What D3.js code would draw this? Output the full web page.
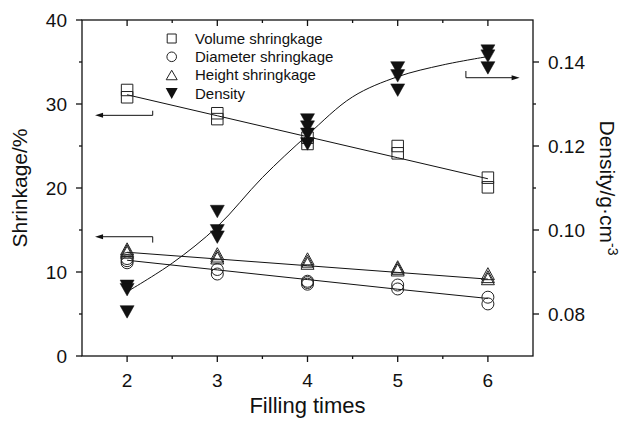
<!DOCTYPE html>
<html><head><meta charset="utf-8">
<script src="https://cdn.jsdelivr.net/npm/d3@7"></script>
<style>
body{margin:0;background:#fff}
svg{display:block}
text{font-family:"Liberation Sans",Arial,Helvetica,sans-serif;fill:#111}
</style>
</head><body>
<svg id="chart" width="625" height="421"></svg>
<script>
// ---------------- data ----------------
const fillingTimes = [2, 3, 4, 5, 6];
const xTicks = [2, 3, 4, 5, 6];
const leftTicks = [0, 10, 20, 30, 40];
const rightTicks = [0.08, 0.10, 0.12, 0.14];

const volumeX = [2, 2, 3, 3, 4, 4, 5, 5, 6, 6];
const volumeY = [31.67, 30.8, 28.9, 28.2, 25.99, 25.24, 25.0, 24.13, 21.23, 20.08];
const diameterX = [2, 2, 2, 3, 3, 4, 4, 4, 5, 5, 6, 6];
const diameterY = [11.6, 11.35, 11.1, 10.3, 9.76, 8.9, 8.75, 8.55, 8.45, 7.98, 7.0, 6.2];
const heightX = [2, 2, 2, 3, 3, 3, 4, 4, 4, 5, 5, 5, 6, 6, 6];
const heightY = [12.76, 12.56, 12.36, 12.18, 11.9, 11.67, 11.57, 11.29, 11.04, 10.63, 10.44, 10.24, 9.8, 9.45, 9.2];
const densityX = [2, 2, 2, 3, 3, 3, 4, 4, 4, 4, 5, 5, 5, 6, 6, 6];
const densityY = [0.0866, 0.0858, 0.0805, 0.1044, 0.0998, 0.0983, 0.1262, 0.1245, 0.1228, 0.1205, 0.1386, 0.1367, 0.1333, 0.1426, 0.1414, 0.1386];

// fitted lines
const volumeFit = [31.1, 28.6, 26.1, 23.6, 21.1];
const diameterFit = [11.4, 10.25, 9.1, 7.95, 6.85];
const heightFit = [12.35, 11.55, 10.75, 9.95, 9.15];
const densityCurveX = [2, 2.5, 3, 3.5, 4, 4.5, 5, 5.5, 6];
const densityCurveY = [0.0853, 0.0921, 0.1008, 0.1125, 0.1226, 0.1317, 0.1365, 0.1393, 0.1413];

const legendLabels = ["Volume shringkage", "Diameter shringkage", "Height shringkage", "Density"];

// axis-pointer arrows (data units)
const leftArrows = [
  {x0: 2.284, x1: 1.645, y: 28.65, tick: 29.2},
  {x0: 2.284, x1: 1.645, y: 14.2, tick: 13.5}
];
const rightArrows = [
  {x0: 5.756, x1: 6.352, y: 0.13626, tick: 0.13786}
];

// ---------------- layout ----------------
const svg = d3.select("#chart");
const L = 82, R = 533, T = 20, B = 356;
const x = d3.scaleLinear().domain([1.5, 6.5]).range([L, R]);
const yL = d3.scaleLinear().domain([0, 40]).range([B, T]);
const yR = d3.scaleLinear().domain([0.07, 0.15]).range([B, T]);

const g = svg.append("g");

// fit lines
const line = (xs, ys, ysc) => d3.line().x((d, i) => x(xs[i])).y(d => ysc(d))(ys);
[[volumeFit], [diameterFit], [heightFit]].forEach(([f]) => {
  g.append("path").attr("d", line(fillingTimes, f, yL))
    .attr("fill", "none").attr("stroke", "#111").attr("stroke-width", 1);
});
g.append("path")
  .attr("d", d3.line().curve(d3.curveCatmullRom.alpha(0.5))
    .x((d, i) => x(densityCurveX[i])).y(d => yR(d))(densityCurveY))
  .attr("fill", "none").attr("stroke", "#111").attr("stroke-width", 1);

// markers
const sq = s => `M${-s/2},${-s/2}h${s}v${s}h${-s}Z`;
const triUp = (w, h) => `M0,${-h/2}L${w/2},${h/2}L${-w/2},${h/2}Z`;
const triDown = (w, h) => `M0,${h/2}L${w/2},${-h/2}L${-w/2},${-h/2}Z`;

volumeY.forEach((v, i) => g.append("path").attr("d", sq(11.5))
  .attr("transform", `translate(${x(volumeX[i])},${yL(v)})`)
  .attr("fill", "none").attr("stroke", "#222").attr("stroke-width", 1));
diameterY.forEach((v, i) => g.append("circle").attr("r", 6)
  .attr("cx", x(diameterX[i])).attr("cy", yL(v))
  .attr("fill", "none").attr("stroke", "#222").attr("stroke-width", 1));
heightY.forEach((v, i) => g.append("path").attr("d", triUp(13, 12))
  .attr("transform", `translate(${x(heightX[i])},${yL(v)})`)
  .attr("fill", "none").attr("stroke", "#222").attr("stroke-width", 1));
densityY.forEach((v, i) => g.append("path").attr("d", triDown(14, 12.5))
  .attr("transform", `translate(${x(densityX[i])},${yR(v)})`)
  .attr("fill", "#111").attr("stroke", "#111").attr("stroke-width", 0.5));

// frame / axes
const axisStroke = 1.3;
const minorX = d3.range(2.5, 6.5, 1);
const minorL = [5, 15, 25, 35];
const minorR = [0.09, 0.11, 0.13];

const ax = svg.append("g").attr("stroke", "#111").attr("stroke-width", axisStroke);
ax.append("rect").attr("x", L).attr("y", T).attr("width", R - L).attr("height", B - T).attr("fill", "none");

// bottom (outward) and top (inward) ticks
xTicks.forEach(t => {
  ax.append("line").attr("x1", x(t)).attr("x2", x(t)).attr("y1", B).attr("y2", B + 6);
  ax.append("line").attr("x1", x(t)).attr("x2", x(t)).attr("y1", T).attr("y2", T + 6);
});
minorX.forEach(t => {
  ax.append("line").attr("x1", x(t)).attr("x2", x(t)).attr("y1", B).attr("y2", B + 3);
  ax.append("line").attr("x1", x(t)).attr("x2", x(t)).attr("y1", T).attr("y2", T + 3);
});
// left ticks
leftTicks.forEach(t => ax.append("line").attr("x1", L - 6).attr("x2", L).attr("y1", yL(t)).attr("y2", yL(t)));
minorL.forEach(t => ax.append("line").attr("x1", L - 3).attr("x2", L).attr("y1", yL(t)).attr("y2", yL(t)));
// right ticks
rightTicks.forEach(t => ax.append("line").attr("x1", R).attr("x2", R + 6).attr("y1", yR(t)).attr("y2", yR(t)));
minorR.forEach(t => ax.append("line").attr("x1", R).attr("x2", R + 3).attr("y1", yR(t)).attr("y2", yR(t)));

// tick labels
const tickFont = 19;
xTicks.forEach(t => svg.append("text").attr("x", x(t)).attr("y", B + 31)
  .attr("text-anchor", "middle").attr("font-size", tickFont).text(d3.format("d")(t)));
leftTicks.forEach(t => svg.append("text").attr("x", L - 15).attr("y", yL(t) + 7)
  .attr("text-anchor", "end").attr("font-size", tickFont).text(t));
rightTicks.forEach(t => svg.append("text").attr("x", R + 15).attr("y", yR(t) + 7)
  .attr("text-anchor", "start").attr("font-size", tickFont).text(d3.format(".2f")(t)));

// axis titles
svg.append("text").attr("x", (L + R) / 2).attr("y", 413).attr("text-anchor", "middle")
  .attr("font-size", 22).text("Filling times");
svg.append("text").attr("transform", `translate(27,${(T + B) / 2}) rotate(-90)`)
  .attr("text-anchor", "middle").attr("font-size", 21).text("Shrinkage/%");
const rt = svg.append("text").attr("transform", `translate(600,${(T + B) / 2}) rotate(90)`)
  .attr("text-anchor", "middle").attr("font-size", 21);
rt.append("tspan").text("Density/g·cm");
rt.append("tspan").attr("font-size", 14).attr("dy", -8).text("-3");

// arrows
const arrowG = svg.append("g").attr("stroke", "#111").attr("stroke-width", 1).attr("fill", "#111");
leftArrows.forEach(a => {
  arrowG.append("line").attr("x1", x(a.x0)).attr("x2", x(a.x1) + 6).attr("y1", yL(a.y)).attr("y2", yL(a.y));
  arrowG.append("line").attr("x1", x(a.x0)).attr("x2", x(a.x0)).attr("y1", yL(a.y)).attr("y2", yL(a.tick));
  arrowG.append("path").attr("stroke", "none")
    .attr("d", `M${x(a.x1)},${yL(a.y)}l8,-2.5v5Z`);
});
rightArrows.forEach(a => {
  arrowG.append("line").attr("x1", x(a.x0)).attr("x2", x(a.x1) - 6).attr("y1", yR(a.y)).attr("y2", yR(a.y));
  arrowG.append("line").attr("x1", x(a.x0)).attr("x2", x(a.x0)).attr("y1", yR(a.y)).attr("y2", yR(a.tick));
  arrowG.append("path").attr("stroke", "none")
    .attr("d", `M${x(a.x1)},${yR(a.y)}l-8,-2.5v5Z`);
});

// legend
const lg = svg.append("g");
const rowY = [38.5, 56.8, 75, 93.5];
const symX = 171.7;
lg.append("path").attr("d", sq(9)).attr("transform", `translate(${symX},${rowY[0]})`)
  .attr("fill", "none").attr("stroke", "#222").attr("stroke-width", 1);
lg.append("circle").attr("cx", symX).attr("cy", rowY[1]).attr("r", 4.8)
  .attr("fill", "none").attr("stroke", "#222").attr("stroke-width", 1);
lg.append("path").attr("d", triUp(11, 9.5)).attr("transform", `translate(${symX},${rowY[2]})`)
  .attr("fill", "none").attr("stroke", "#222").attr("stroke-width", 1);
lg.append("path").attr("d", triDown(12, 11)).attr("transform", `translate(${symX},${rowY[3]})`)
  .attr("fill", "#111");
legendLabels.forEach((t, i) => lg.append("text").attr("x", 195).attr("y", rowY[i] + 5.3)
  .attr("font-size", 15).text(t));
</script>
</body></html>
